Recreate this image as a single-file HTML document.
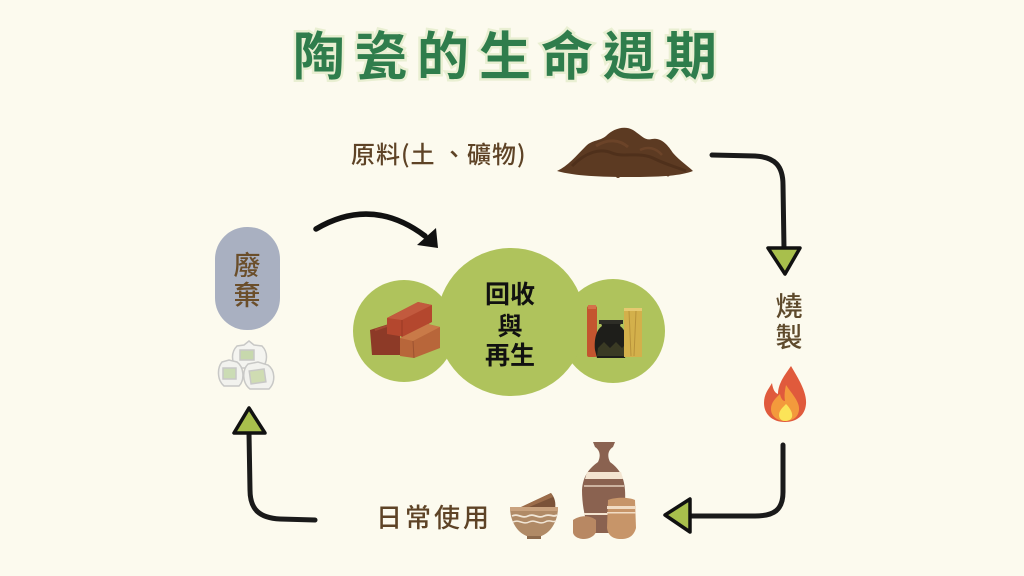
<!DOCTYPE html>
<html><head><meta charset="utf-8"><style>
html,body{margin:0;padding:0;background:#fcfaee;}
svg{display:block;}
</style></head><body>
<svg width="1024" height="576" viewBox="0 0 1024 576" xmlns="http://www.w3.org/2000/svg">
<rect width="1024" height="576" fill="#fcfaee"/>
<!-- title -->
<text x="510" y="75" text-anchor="middle" font-family="'Noto Sans CJK TC','Noto Sans CJK SC',sans-serif" font-weight="700" font-size="52" letter-spacing="10" fill="#2f7d4c" stroke="#e9efd2" stroke-width="5" paint-order="stroke">陶瓷的生命週期</text>

<!-- raw material label -->
<text x="351" y="163" font-family="'Noto Sans CJK TC',sans-serif" font-weight="500" font-size="24" fill="#5e4326" letter-spacing="1">原料(土 、礦物)</text>
<!-- soil pile -->
<g>
<path d="M557,171 C568,166 576,156 586,146 C592,140 600,141 606,136 C613,129 624,125 633,130 C641,135 645,141 652,139 C661,137 668,145 673,153 C680,161 688,166 693,171 C680,176 660,177 630,177 C600,177 575,176 557,171 Z" fill="#5c3a22"/>
<path d="M572,166 C586,152 600,148 612,153 C624,158 640,151 655,159 C665,164 676,167 686,171" fill="none" stroke="#4a2c18" stroke-width="3" opacity="0.7"/>
<path d="M596,146 C608,138 620,140 628,147" fill="none" stroke="#75492d" stroke-width="3" opacity="0.6"/>
<path d="M640,150 C648,146 656,148 662,155" fill="none" stroke="#75492d" stroke-width="2.5" opacity="0.6"/>
<circle cx="618" cy="176" r="2" fill="#5c3a22"/><circle cx="668" cy="175" r="1.5" fill="#5c3a22"/>
</g>

<!-- top-right arrow -->
<path d="M712,155 L755,156 C775,157 783,166 783,185 L784,248" fill="none" stroke="#1a1a1a" stroke-width="5" stroke-linecap="round"/>
<polygon points="768,248 800,248 785,274" fill="#a8bf4c" stroke="#111" stroke-width="3.5" stroke-linejoin="round"/>

<!-- 燒製 -->
<text x="789" y="316" text-anchor="middle" font-family="'Noto Sans CJK TC',sans-serif" font-weight="500" font-size="27" fill="#5e4a2c">燒</text>
<text x="789" y="347" text-anchor="middle" font-family="'Noto Sans CJK TC',sans-serif" font-weight="500" font-size="27" fill="#5e4a2c">製</text>
<!-- fire -->
<path d="M791,366 C798,378 807,392 806,404 C805,416 796,422 785,422 C772,422 764,414 764,403 C764,394 768,390 772,383 C773,390 775,393 778,394 C778,384 784,376 791,366 Z" fill="#e05a3c"/>
<path d="M786,385 C792,394 800,402 799,410 C798,418 792,421 785,421 C777,421 771,416 771,409 C771,402 776,398 780,394 C781,399 783,401 785,401 C784,395 785,390 786,385 Z" fill="#f39a3c"/>
<path d="M786,404 C790,408 793,413 792,417 C791,420 788,421 785,421 C781,421 779,418 779,415 C779,411 782,408 786,404 Z" fill="#fbe458"/>

<!-- bottom-right arrow -->
<path d="M783,445 L783,492 C783,510 774,516 755,516 L690,516" fill="none" stroke="#1a1a1a" stroke-width="5" stroke-linecap="round"/>
<polygon points="690,499 690,532 665,515" fill="#a8bf4c" stroke="#111" stroke-width="3.5" stroke-linejoin="round"/>

<!-- 日常使用 -->
<text x="376" y="527" font-family="'Noto Sans CJK TC',sans-serif" font-weight="500" font-size="26" fill="#5e4326" letter-spacing="3">日常使用</text>

<!-- pottery -->
<g>
<path d="M519,508 L551,493 C555,498 556,503 555,509 Z" fill="#7a5238"/>
<path d="M519,508 L551,493 L553,497 L522,510 Z" fill="#9b6c4a"/>
<path d="M510,509 L558,509 C557,525 548,535 538,537 L530,537 C520,535 511,525 510,509 Z" fill="#b08a66"/>
<rect x="510" y="507" width="48" height="4" fill="#c9a27e"/>
<path d="M512,516 C518,513 522,519 528,516 C534,513 538,519 544,516 C550,513 553,518 557,515" fill="none" stroke="#f1e6d6" stroke-width="1.8"/>
<path d="M513,522 C519,519 523,525 529,522 C535,519 539,525 545,522 C550,519 553,523 556,521" fill="none" stroke="#f1e6d6" stroke-width="1.5"/>
<rect x="527" y="536" width="14" height="3" fill="#8d6a4c"/>
<path d="M593,442 L615,442 L613,447 C608,450 607,456 610,462 C618,468 624,475 625,490 C626,505 623,520 618,533 L590,533 C585,520 582,505 582,490 C583,475 590,468 598,462 C601,456 600,450 595,447 Z" fill="#8a6250"/>
<path d="M587,472 L621,472 L623,479 L585,479 Z" fill="#f3e4d0"/>
<path d="M584,486 L624,486" stroke="#f3e4d0" stroke-width="1.2"/>
<path d="M584,514 L623,514" stroke="#f3e4d0" stroke-width="2"/>
<path d="M573,520 C580,515 590,515 596,520 L596,532 C594,537 588,539 584,539 C578,539 573,536 573,532 Z" fill="#b88863"/>
<path d="M608,500 C615,497 629,497 635,500 L636,528 C634,535 630,539 621,539 C612,539 608,535 607,528 Z" fill="#c79569"/>
<rect x="607" y="506" width="29" height="3" fill="#f1dcc4"/>
<rect x="607" y="512" width="29" height="1.5" fill="#f1dcc4"/>
</g>

<!-- bottom-left arrow -->
<path d="M315,520 L280,519 C260,518 250,510 250,490 L249,433" fill="none" stroke="#1a1a1a" stroke-width="5" stroke-linecap="round"/>
<polygon points="234,433 265,433 249,408" fill="#a8bf4c" stroke="#111" stroke-width="3.5" stroke-linejoin="round"/>

<!-- 廢棄 pill -->
<rect x="215" y="227" width="65" height="103" rx="32" ry="32" fill="#a9b0c1"/>
<text x="247" y="275" text-anchor="middle" font-family="'Noto Sans CJK TC',sans-serif" font-weight="500" font-size="27" fill="#6b4e2a">廢</text>
<text x="247" y="305" text-anchor="middle" font-family="'Noto Sans CJK TC',sans-serif" font-weight="500" font-size="27" fill="#6b4e2a">棄</text>

<!-- trash bags -->
<g stroke="#c8c8c6" stroke-width="1.5">
<path d="M244,345 L249,341 L254,345 L262,346 C268,352 268,362 262,368 L237,368 C231,362 231,352 237,346 Z" fill="#f4f4f0"/>
<rect x="240" y="350" width="14" height="10" fill="#c7d8ad"/>
<path d="M222,362 L229,360 L237,362 C244,367 245,380 239,386 L224,386 C217,380 217,368 222,362 Z" fill="#f2f2ee"/>
<rect x="223" y="368" width="13" height="11" fill="#cbdcb4"/>
<path d="M248,364 L258,362 L268,365 C275,370 276,382 269,389 L250,389 C242,383 242,370 248,364 Z" fill="#f2f2ee"/>
<rect x="250" y="370" width="15" height="13" fill="#cfdcb2" transform="rotate(-8 257 376)"/>
</g>

<!-- top-left curved arrow -->
<path d="M316,229 Q372,196 425,236" fill="none" stroke="#111" stroke-width="5.5" stroke-linecap="round"/>
<polygon points="417,245 436,228 438,248" fill="#111"/>

<!-- central cluster -->
<circle cx="404" cy="331" r="51" fill="#afc35c"/>
<circle cx="613" cy="331" r="52" fill="#afc35c"/>
<circle cx="511" cy="322" r="74" fill="#afc35c"/>
<g font-family="'Noto Sans CJK TC',sans-serif" font-weight="700" font-size="25" fill="#111" text-anchor="middle">
<text x="510" y="303">回收</text>
<text x="510" y="335">與</text>
<text x="510" y="364">再生</text>
</g>

<!-- bricks -->
<g>
<path d="M370,330 L395,322 L400,326 L400,355 L372,355 Z" fill="#8d3a27"/>
<path d="M375,330 L396,323" stroke="#a44a33" stroke-width="2"/>
<path d="M387,318 L418,302 L432,305 L432,322 L405,337 L387,334 Z" fill="#b4472e"/>
<path d="M387,318 L418,302 L432,305 L402,320 Z" fill="#c25a3e"/>
<path d="M402,320 L402,337" stroke="#9a3a24" stroke-width="1"/>
<path d="M400,338 L428,324 L440,327 L440,348 L414,358 L400,356 Z" fill="#b8663a"/>
<path d="M400,338 L428,324 L440,327 L413,341 Z" fill="#c97a48"/>
<path d="M413,341 L414,358" stroke="#9c5230" stroke-width="1"/>
</g>

<!-- jars -->
<g>
<rect x="587" y="306" width="10" height="51" rx="2" fill="#c4552f"/>
<rect x="588" y="305" width="8" height="4" fill="#d4714a"/>
<path d="M600,320 L622,320 L620,326 C626,330 628,340 627,350 L625,358 L597,358 L595,350 C594,340 596,330 602,326 Z" fill="#1e1e1a"/>
<rect x="599" y="320" width="24" height="4" fill="#2d2d26"/>
<path d="M598,348 L604,342 L610,348 L616,342 L622,348 L626,344 L626,356 L597,356 Z" fill="#3a3a24"/>
<rect x="624" y="308" width="18" height="49" fill="#d3b04b"/>
<rect x="624" y="308" width="18" height="3" fill="#e6c970"/>
<path d="M629,311 L631,356 M636,311 L634,356" stroke="#b8923a" stroke-width="1"/>
</g>
</svg>
</body></html>
